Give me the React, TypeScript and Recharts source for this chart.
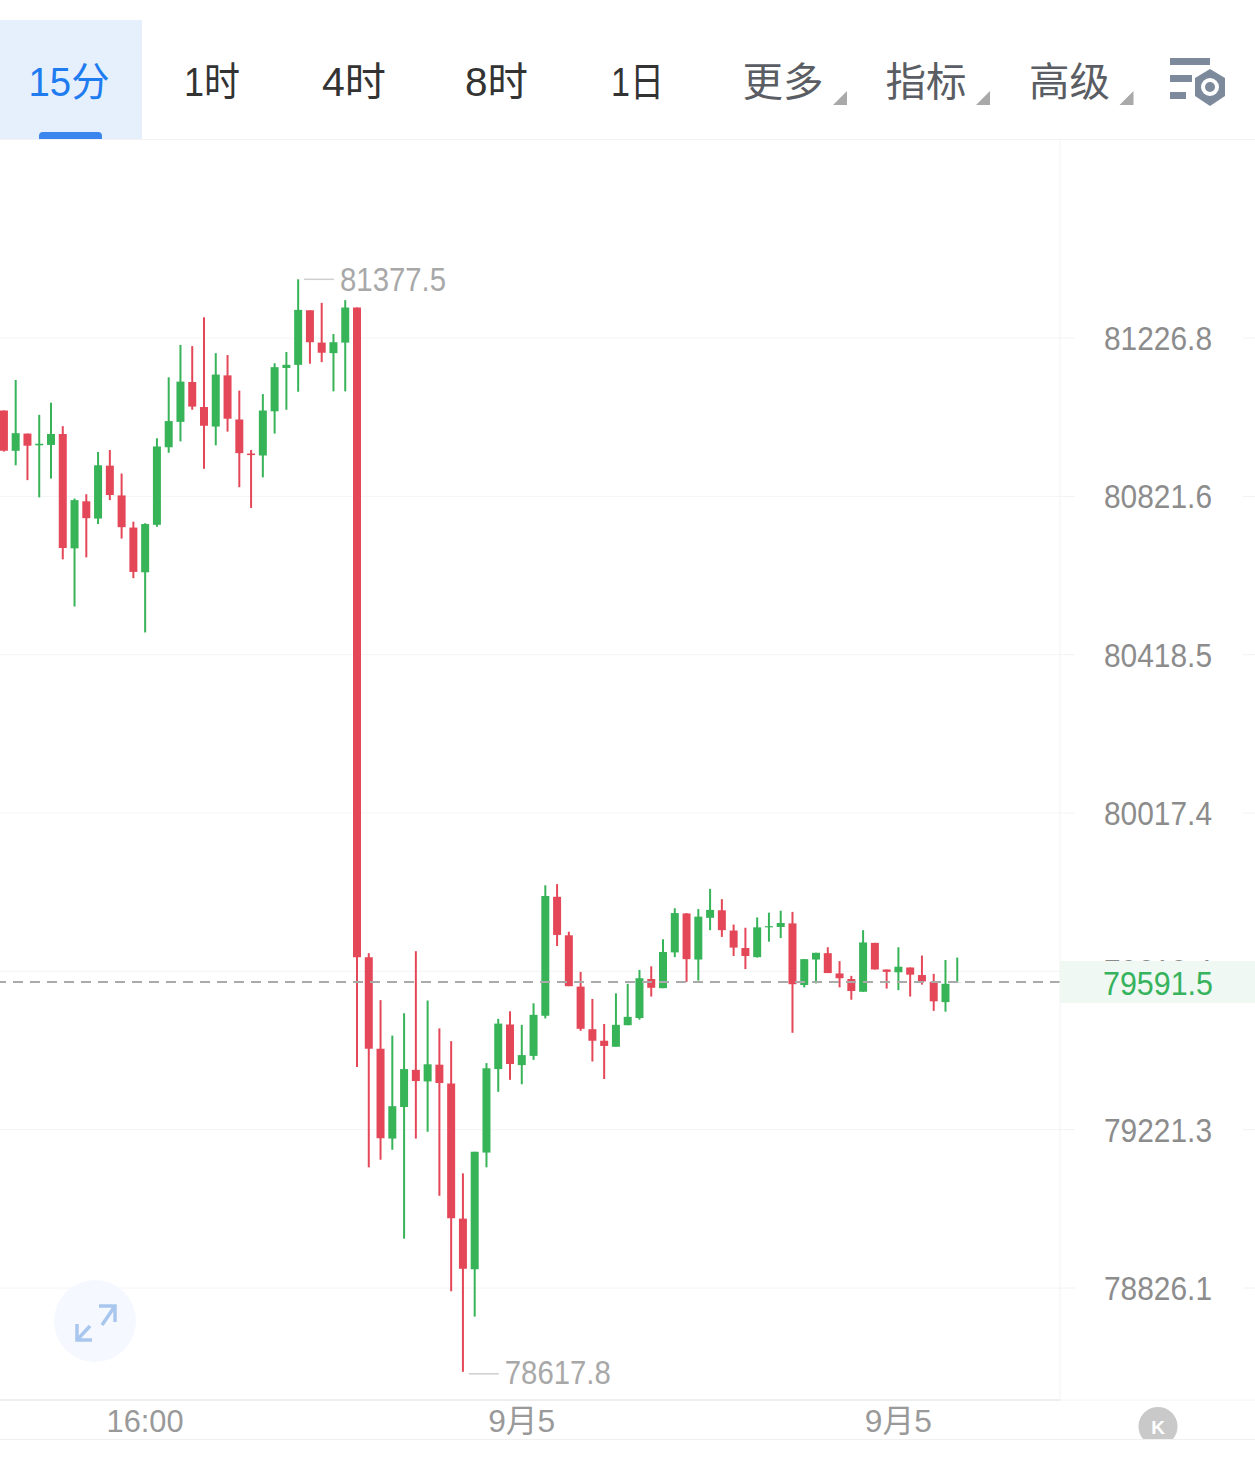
import React from "react";
import { ComposedChart, Bar, Cell, XAxis, YAxis, CartesianGrid, ReferenceLine, ReferenceDot } from "recharts";

const opens = [
  81041,80938,80982,80952,80953,80981,80689,80809,80765,80900,
  80824,80742,80628,80749,80947,81012,81114,81050,81000,81131,
  81018,80931,80926,81039,81150,81158,81298,81215,81188,81215,
  81305,79654,79424,79199,79278,79371,79342,79384,79337,78999,
  78873,79164,79373,79485,79383,79406,79507,79806,79709,79580,
  79473,79444,79429,79483,79501,79599,79576,79666,79764,79648,
  79753,79772,79721,79677,79654,79729,79730,79739,79584,79648,
  79664,79613,79599,79567,79690,79623,79616,79628,79609,79592,
  79541,79591,
];
const closes = [
  80938,80983,80951,80956,80981,80690,80812,80766,80901,80825,
  80743,80629,80751,80949,81014,81115,81051,81002,81133,81020,
  80932,80927,81041,81152,81158,81299,81216,81189,81216,81305,
  79654,79424,79200,79280,79373,79343,79385,79338,79000,78874,
  79166,79375,79487,79386,79408,79509,79808,79710,79581,79474,
  79444,79431,79484,79504,79601,79577,79667,79765,79649,79756,
  79773,79722,79678,79657,79729,79732,79740,79586,79649,79665,
  79614,79601,79569,79691,79623,79617,79630,79610,79593,79543,
  79587,79591.5,
];
const highs = [
  81041,81119,80982,81030,81061,81001,80816,80827,80935,80940,
  80880,80757,80753,80970,81126,81209,81206,81280,81188,81183,
  81092,80940,81083,81162,81191,81377.5,81298,81317,81237,81324,
  81305,79664,79546,79457,79513,79669,79545,79475,79443,79112,
  79166,79388,79499,79518,79484,79538,79835,79838,79718,79617,
  79549,79486,79563,79587,79622,79631,79699,79777,79765,79775,
  79826,79800,79736,79728,79754,79766,79771,79768,79649,79665,
  79679,79644,79607,79722,79690,79623,79679,79628,79658,79612,
  79647,79653,
];
const lows = [
  80936,80901,80863,80819,80867,80661,80541,80666,80751,80812,
  80714,80613,80475,80744,80933,80962,81043,80892,80952,80987,
  80845,80792,80870,80982,81043,81089,81161,81165,81090,81090,
  79378,79127,79146,79171,78949,79199,79216,79056,78818,78617.8,
  78755,79127,79316,79346,79335,79396,79500,79682,79581,79469,
  79392,79348,79429,79483,79497,79555,79576,79654,79592,79595,
  79722,79705,79657,79624,79653,79693,79702,79464,79578,79588,
  79614,79578,79547,79567,79623,79575,79571,79555,79585,79519,
  79517,79591,
];
const gridTicks = [81226.8, 80821.6, 80418.5, 80017.4, 79618.4, 79221.3, 78826.1];
const lastPrice = 79591.5;
const highPrice = 81377.5;
const lowPrice = 78617.8;
const xTickIndexes = [12, 44, 76];
const xTickLabels = ["16:00", "9月5", "9月5"];
const tabs = ["1时", "4时", "8时", "1日"];
const tabCenters = [212, 354, 496.5, 637.5];
const tabWidths = [56, 64, 63, 53];
const menus = ["更多", "指标", "高级"];
const menuCenters = [783, 926, 1069.5];

const rows = opens.map((o, i) => ({
  idx: i,
  body: [Math.min(o, closes[i]), Math.max(o, closes[i])],
  wick: [lows[i], highs[i]],
  up: closes[i] >= o,
}));

const GREEN = "#37b358";
const RED = "#e44757";
const SANS = "'Liberation Sans', 'Noto Sans CJK SC', sans-serif";
const CJK = "'Liberation Sans', 'Noto Sans CJK SC', sans-serif";

function YTick(props: any) {
  const { y, payload } = props;
  const v = payload.value;
  if (v === lastPrice) {
    return (
      <g>
        <rect x={1060} y={y - 21} width={195} height={42} fill="#f0f8f4" />
        <text x={1158} y={y + 13} textAnchor="middle" fontFamily={SANS} fontSize={33} textLength={110} lengthAdjust="spacingAndGlyphs" fill="#36b35c">
          {v.toFixed(1)}
        </text>
      </g>
    );
  }
  return (
    <g>
      <line x1={1060} x2={1075} y1={y} y2={y} stroke="#f0f2f5" />
      <line x1={1243} x2={1255} y1={y} y2={y} stroke="#f0f2f5" />
      <text x={1158} y={y + 12} textAnchor="middle" fontFamily={SANS} fontSize={33} textLength={108} lengthAdjust="spacingAndGlyphs" fill="#8c8c8c">
        {v.toFixed(1)}
      </text>
    </g>
  );
}

function XTick(props: any) {
  const { x, payload } = props;
  const k = xTickIndexes.indexOf(payload.value);
  return (
    <text x={x} y={1432} textAnchor="middle" fontFamily={CJK} fontSize={32} textLength={k === 0 ? 77 : 67} lengthAdjust="spacingAndGlyphs" fill="#999999">
      {xTickLabels[k]}
    </text>
  );
}

function extremeShape(label: string, lift: number, drop: number) {
  return (p: any) => (
    <g>
      <line x1={p.cx + 6} x2={p.cx + 36} y1={p.cy + lift} y2={p.cy + lift} stroke="#cfcfcf" strokeWidth={1.5} />
      <text x={p.cx + 42} y={p.cy + drop} fontFamily={SANS} fontSize={33} textLength={106} lengthAdjust="spacingAndGlyphs" fill="#a8a8a8">
        {label}
      </text>
    </g>
  );
}

function Overlay() {
  return (
    <svg width={1255} height={1458} style={{ position: "absolute", left: 0, top: 0, pointerEvents: "none" }}>
      <rect x={0} y={20} width={142} height={119} fill="#e6f0fd" />
      <path d="M39 139 v-3 a4 4 0 0 1 4 -4 h55 a4 4 0 0 1 4 4 v3 z" fill="#3a86ee" />
      <line x1={0} x2={1255} y1={139.5} y2={139.5} stroke="#f0f2f5" />
      <text x={69} y={96} textAnchor="middle" fontFamily={CJK} fontSize={40} textLength={81} lengthAdjust="spacingAndGlyphs" fill="#1f7cf0">15分</text>
      {tabs.map((t, i) => (
        <text key={i} x={tabCenters[i]} y={96} textAnchor="middle" fontFamily={CJK} fontSize={40} textLength={tabWidths[i]} lengthAdjust="spacingAndGlyphs" fill="#333333">{t}</text>
      ))}
      {menus.map((t, i) => (
        <g key={i}>
          <text x={menuCenters[i]} y={96} textAnchor="middle" fontFamily={CJK} fontSize={40} textLength={81} lengthAdjust="spacingAndGlyphs" fill="#5a5d63">{t}</text>
          <path d={`M${menuCenters[i] + 50} 105 h14 v-14 z`} fill="#a9a9a9" />
        </g>
      ))}
      <g fill="#7d8a9c">
        <rect x={1170} y={58} width={40} height={7} />
        <rect x={1170} y={75} width={22} height={7} />
        <rect x={1170} y={92} width={16} height={7} />
        <path d="M1210 69 l15 9 v18 l-15 10 l-15 -10 v-18 z" />
      </g>
      <circle cx={1210} cy={87} r={9} fill="#ffffff" />
      <circle cx={1210} cy={87} r={5} fill="#7d8a9c" />

      <line x1={1060} x2={1255} y1={1400} y2={1400} stroke="#f4f4f4" />
      <line x1={0} x2={1255} y1={1439.5} y2={1439.5} stroke="#f0f0f0" />

      <circle cx={95} cy={1321} r={41} fill="#f5f9ff" />
      <g fill="none" stroke="#a9c6ee" strokeWidth={3.5}>
        <path d="M99 1306 h16 v16" />
        <path d="M115 1306 l-13 19" />
        <path d="M77 1324 v16 h15" />
        <path d="M77 1340 l13 -14" />
      </g>

      <path d="M1143 1439 a19.5 19.5 0 1 1 30 0 z" fill="#c9c9c9" />
      <text x={1158} y={1434} textAnchor="middle" fontFamily={SANS} fontSize={19} fontWeight="bold" fill="#ffffff">K</text>
    </svg>
  );
}

export default function App() {
  return (
    <div style={{ position: "absolute", left: 0, top: 0, width: 1255, height: 1458, background: "#ffffff" }}>
      <ComposedChart
        width={1255}
        height={1458}
        data={rows}
        margin={{ top: 140, right: 0, bottom: 18, left: 0 }}
      >
        <CartesianGrid vertical={false} stroke="#f2f4f7" horizontalValues={gridTicks} />
        <XAxis
          xAxisId="body"
          dataKey="idx"
          type="number"
          domain={[-0.323, 89.74]}
          allowDataOverflow
          hide
          height={0}
        />
        <XAxis
          xAxisId="wick"
          dataKey="idx"
          type="number"
          domain={[-0.323, 89.74]}
          allowDataOverflow
          ticks={xTickIndexes}
          interval={0}
          height={40}
          tickLine={false}
          axisLine={{ stroke: "#eeeeee", strokeWidth: 2 }}
          tick={<XTick />}
        />
        <YAxis
          orientation="right"
          width={195}
          type="number"
          scale="log"
          domain={[78547.8, 81736.3]}
          allowDataOverflow
          ticks={[...gridTicks, lastPrice]}
          interval={0}
          tickLine={false}
          axisLine={{ stroke: "#f2f3f5" }}
          tick={<YTick />}
        />
        <Bar xAxisId="wick" dataKey="wick" barSize={2} isAnimationActive={false}>
          {rows.map((r) => (
            <Cell key={r.idx} fill={r.up ? GREEN : RED} />
          ))}
        </Bar>
        <Bar xAxisId="body" dataKey="body" barSize={8} isAnimationActive={false}>
          {rows.map((r) => (
            <Cell key={r.idx} fill={r.up ? GREEN : RED} />
          ))}
        </Bar>
        <ReferenceLine xAxisId="wick" y={lastPrice} stroke="#aaaaaa" strokeWidth={2} strokeDasharray="10 7" />
        <ReferenceDot xAxisId="wick" x={25} y={highPrice} r={0} ifOverflow="visible" shape={extremeShape("81377.5", 0, 12)} />
        <ReferenceDot xAxisId="wick" x={39} y={lowPrice} r={0} ifOverflow="visible" shape={extremeShape("78617.8", 2, 12)} />
      </ComposedChart>
      <Overlay />
    </div>
  );
}
